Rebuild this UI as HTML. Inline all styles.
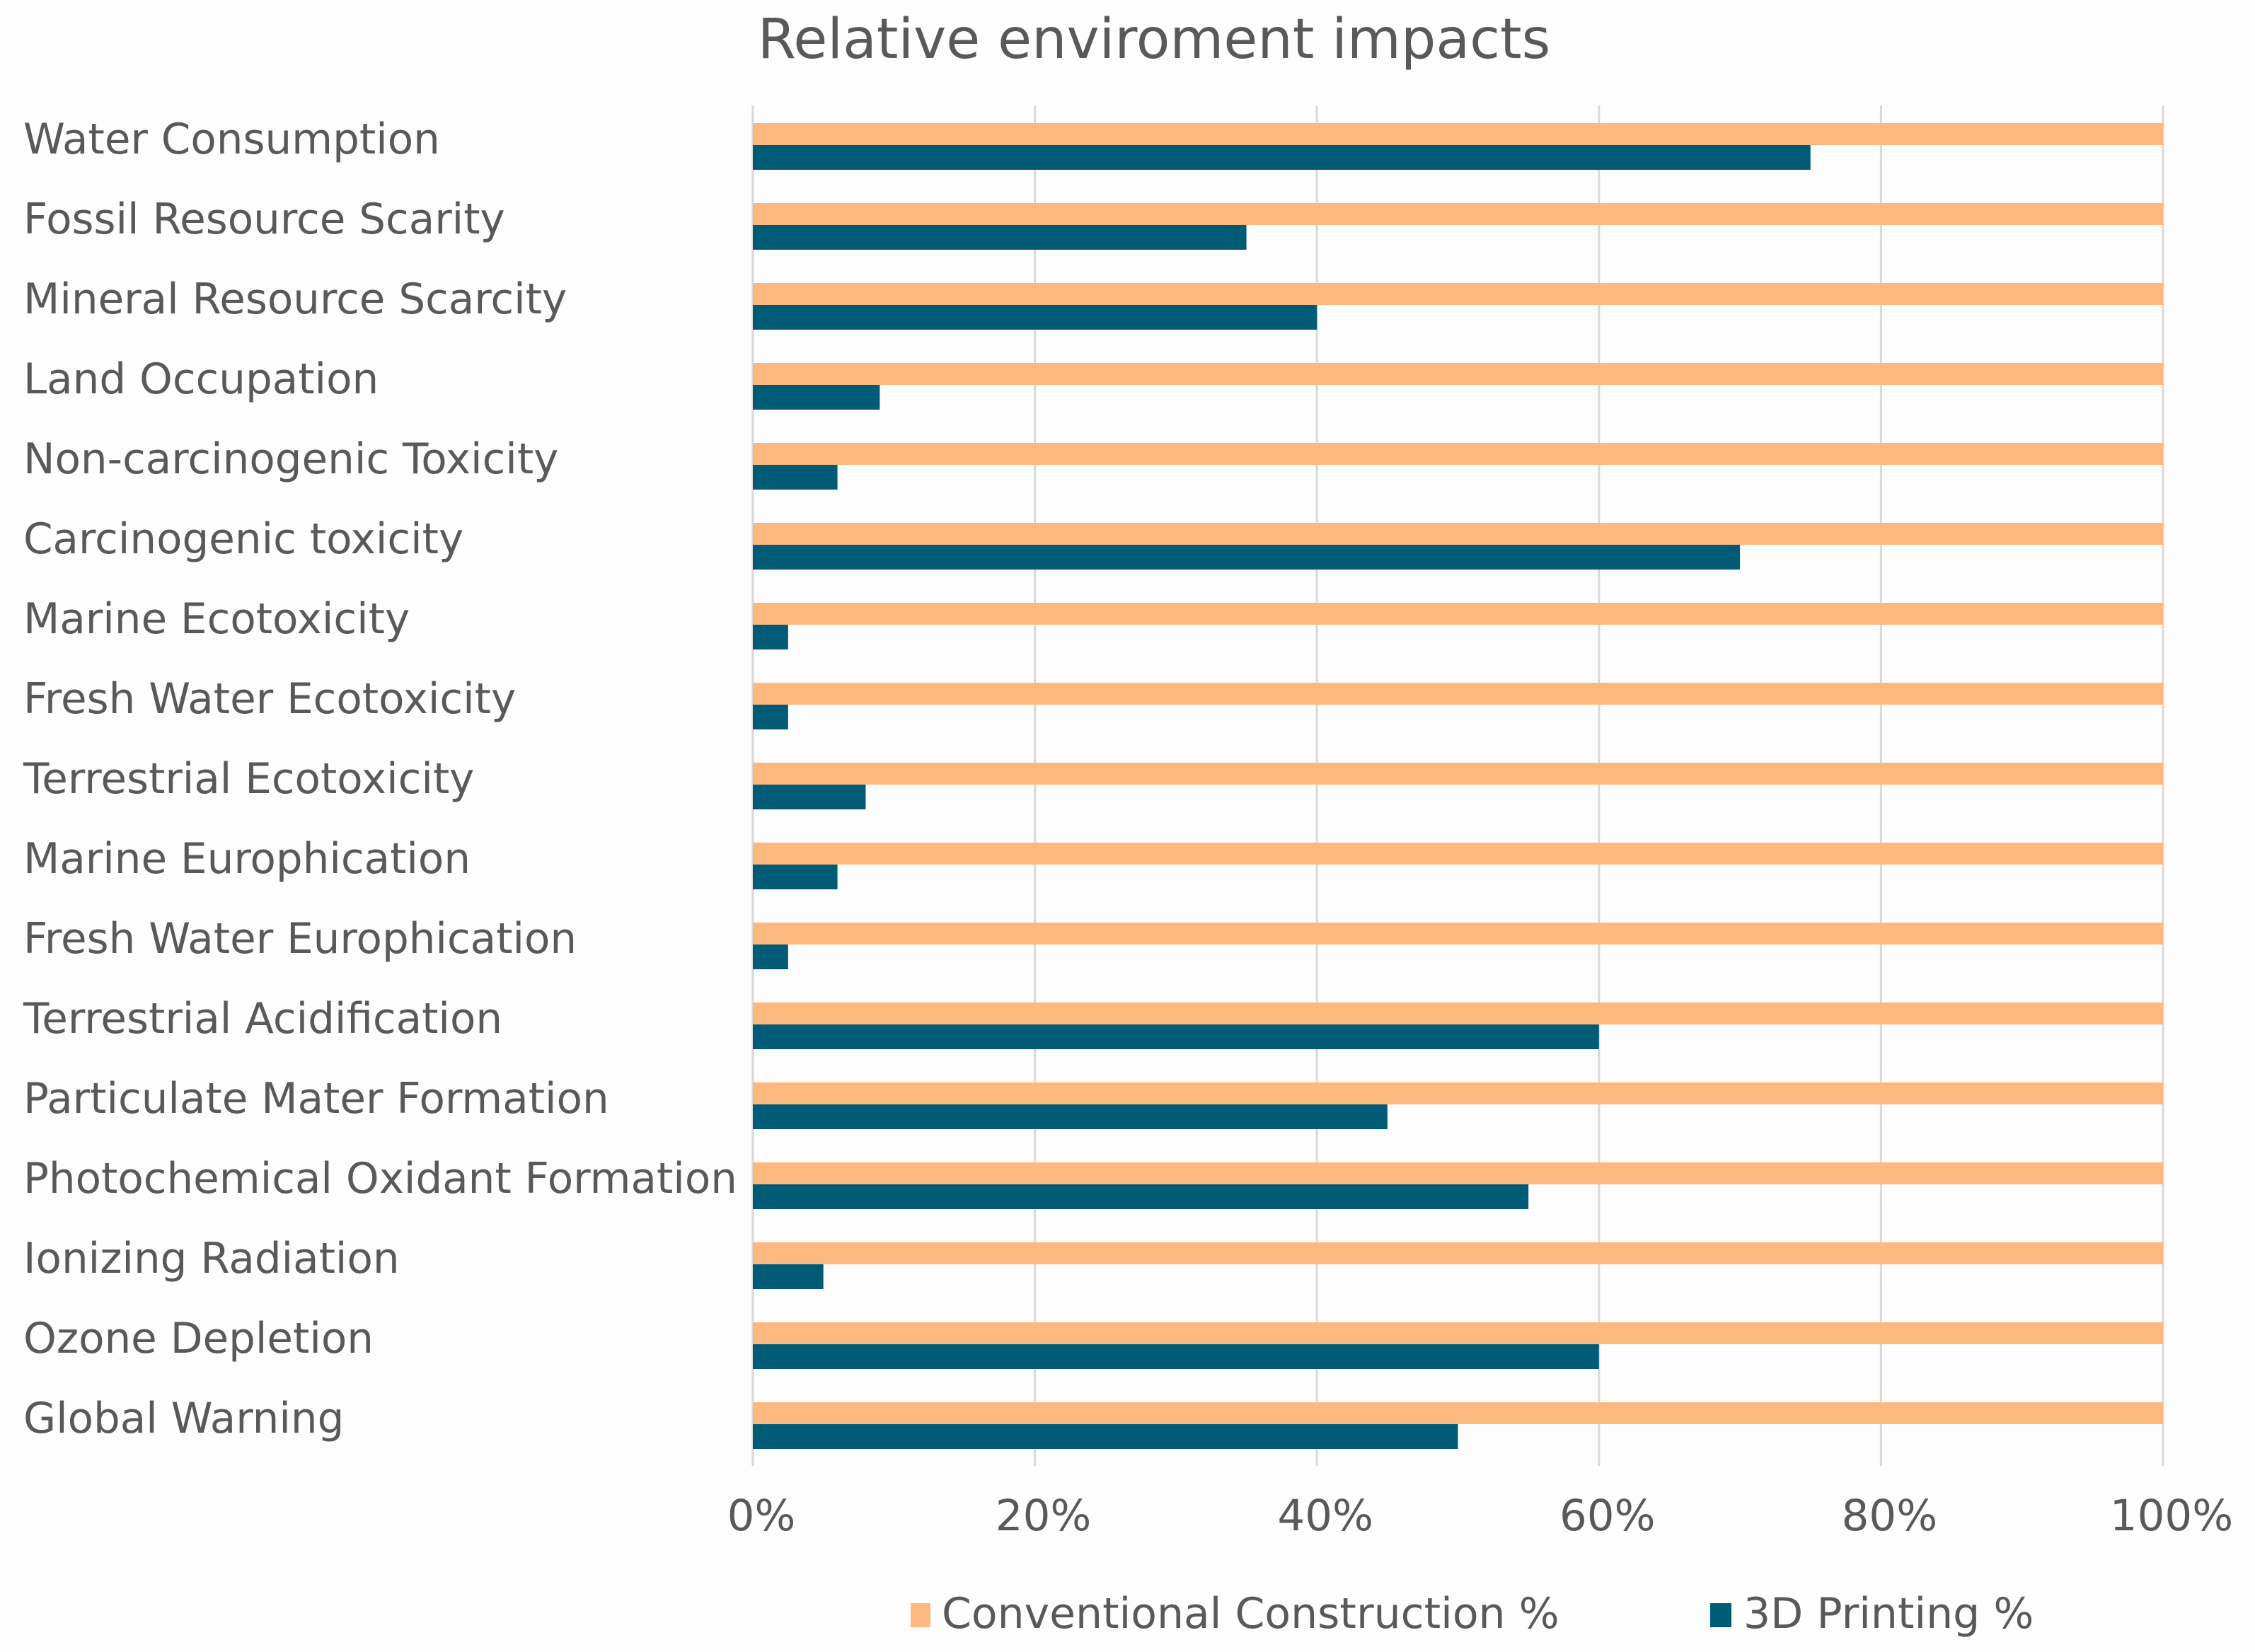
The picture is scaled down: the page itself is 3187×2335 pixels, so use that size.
<!DOCTYPE html>
<html><head><meta charset="utf-8"><style>
html,body{margin:0;padding:0;background:#fdfdfd;}
svg{display:block;font-family:"DejaVu Sans","Liberation Sans",sans-serif;}
</style></head><body>
<svg id="chart" width="3187" height="2335" viewBox="0 0 3187 2335" xmlns="http://www.w3.org/2000/svg">
<rect x="0" y="0" width="3187" height="2335" fill="#fdfdfd"/>
<text x="1631" y="82" font-size="78" fill="#595959" text-anchor="middle">Relative enviroment impacts</text>
<g id="grid"></g>
<g id="bars"></g>
<g id="labels"></g>
<g id="ticks"></g>
<g>
<rect x="1287" y="2266" width="28" height="34" fill="#fdb87f"/>
<text x="1331" y="2301" font-size="60" fill="#595959">Conventional Construction %</text>
<rect x="2417" y="2266" width="30" height="34" fill="#005b77"/>
<text x="2464" y="2301" font-size="60" fill="#595959">3D Printing %</text>
</g>
</svg>
<script>
const categories = ["Water Consumption","Fossil Resource Scarity","Mineral Resource Scarcity","Land Occupation","Non-carcinogenic Toxicity","Carcinogenic toxicity","Marine Ecotoxicity","Fresh Water Ecotoxicity","Terrestrial Ecotoxicity","Marine Europhication","Fresh Water Europhication","Terrestrial Acidification","Particulate Mater Formation","Photochemical Oxidant Formation","Ionizing Radiation","Ozone Depletion","Global Warning"];
const conventional = [100,100,100,100,100,100,100,100,100,100,100,100,100,100,100,100,100];
const printing = [75,35,40,9,6,70,2.5,2.5,8,6,2.5,60,45,55,5,60,50];
const tickValues = [0,20,40,60,80,100];
const tickLabels = ["0%","20%","40%","60%","80%","100%"];

const NS = "http://www.w3.org/2000/svg";
const x0 = 1064, x1 = 3057, top0 = 174, pitch = 113.0, bh1 = 31, bh2 = 35;
function xs(v){ return x0 + (x1 - x0) * v / 100; }
function yRow(i){ return top0 + i * pitch; }
function mk(tag, attrs){ const e = document.createElementNS(NS, tag); for (const k in attrs) e.setAttribute(k, attrs[k]); return e; }

const grid = document.getElementById('grid');
tickValues.forEach((t, i) => {
  const l = mk('line', {x1: xs(t), x2: xs(t), y1: 149, y2: 2072, stroke: '#d9d9d9', 'stroke-width': 3});
  
  
  grid.appendChild(l);
  const tx = mk('text', {x: xs(t) + 12, y: 2163, 'font-size': 61, fill: '#595959', 'text-anchor': 'middle'});
  tx.textContent = tickLabels[i];
  
  
  document.getElementById('ticks').appendChild(tx);
});

const bars = document.getElementById('bars');
const labels = document.getElementById('labels');
categories.forEach((c, i) => {
  const y = yRow(i);
  const r1 = mk('rect', {x: xs(0), y: y, width: xs(conventional[i]) - xs(0), height: bh1, fill: '#fdb87f'});
  
  
  bars.appendChild(r1);
  const r2 = mk('rect', {x: xs(0), y: y + bh1, width: xs(printing[i]) - xs(0), height: bh2, fill: '#005b77'});
  
  
  bars.appendChild(r2);
  const t = mk('text', {x: 33, y: y + 43, 'font-size': 59.5, fill: '#595959'});
  t.textContent = c;
  
  
  labels.appendChild(t);
});
</script>
</body></html>
